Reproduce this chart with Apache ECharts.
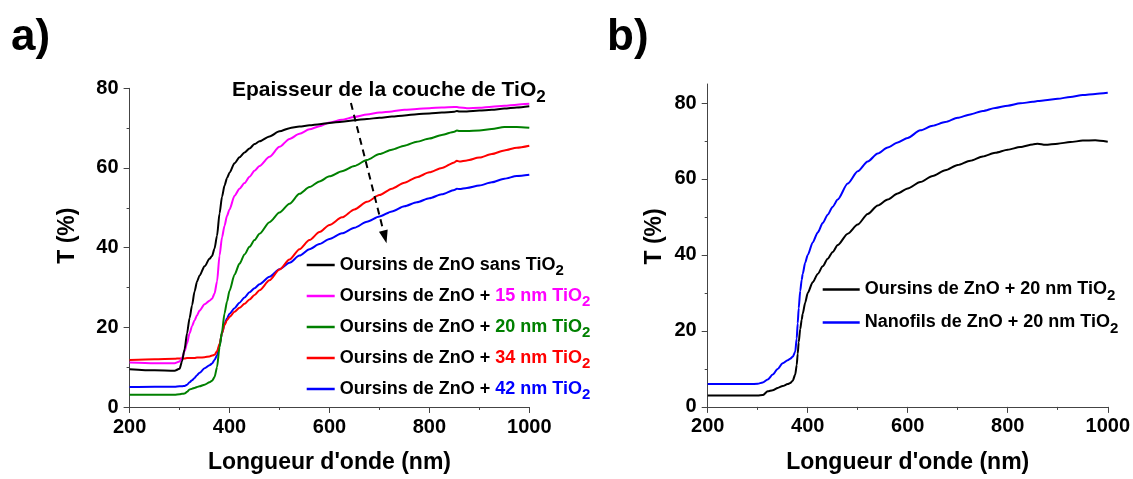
<!DOCTYPE html>
<html><head><meta charset="utf-8">
<script src="https://cdn.jsdelivr.net/npm/echarts@6/dist/echarts.min.js"></script>
<style>html,body{margin:0;padding:0;background:#fff}#c{width:1133px;height:479px}</style>
</head><body><div id="c"></div>
<script>
const FONT = "'Liberation Sans', Arial, sans-serif";

// ---------- panel a) data ----------
const wlA = [200,250,290,300,305,310,315,320,325,330,335,340,350,360,365,370,375,380,385,390,395,400,410,420,430,440,450,460,480,500,520,540,560,580,600,625,650,675,700,725,750,775,800,825,850,855,860,875,900,925,950,975,1000];
const tA_sans = [9.5,9.2,9.1,9.6,11.5,14.5,18.5,22.3,25.5,29,31.5,33,35.3,37.2,37.9,39.8,43,48.6,52.8,55.6,57.5,58.8,61.2,62.7,63.9,64.9,66,66.7,67.9,69.2,70,70.4,70.7,71.0,71.3,71.6,72,72.3,72.6,72.9,73.2,73.5,73.7,73.9,74.1,74.3,74.2,74.2,74.4,74.6,74.9,75.2,75.5];
const tA_15 = [11.2,11.0,11.0,11.4,12.3,14,16,18.5,20.3,21.8,23,24.2,25.8,26.7,27.2,28.5,31.5,38,42.6,45.5,48,49.6,53,54.8,56.2,57.8,59.3,60.5,62.8,65.3,67.3,68.6,69.7,70.5,71.4,72.1,72.8,73.4,73.9,74.2,74.6,74.8,75.0,75.2,75.3,75.3,75.2,75.0,75.1,75.4,75.6,75.9,76.1];
const tA_20 = [3.1,3.1,3.1,3.2,3.3,3.4,3.8,4.4,4.6,4.8,5.0,5.2,5.6,6.2,6.6,7.5,10,15,19,23.5,26.5,29.2,33.2,36,38.3,40.2,41.9,43.5,46.4,48.8,51,53.5,55.2,56.6,57.9,59.2,60.5,62,63.5,64.6,65.6,66.6,67.4,68.3,69.1,69.4,69.3,69.3,69.4,69.8,70.3,70.3,70.1];
const tA_34 = [11.8,12.0,12.1,12.2,12.2,12.2,12.3,12.3,12.3,12.3,12.4,12.4,12.5,12.7,12.9,13.1,14,15.8,18.5,20.6,21.8,22.6,23.9,24.9,25.9,27,28.1,29.3,31.8,34.5,37,39.6,41.9,43.9,45.7,47.6,49.6,51.5,53.2,54.8,56.3,57.7,58.9,60,61.4,61.8,61.6,61.9,62.6,63.5,64.4,65.1,65.6];
const tA_42 = [5.0,5.1,5.1,5.2,5.2,5.3,5.6,6.2,6.7,7.3,8.0,8.6,9.7,10.5,10.9,11.8,13,15.5,18.5,20.8,22.3,23.4,24.8,26.2,27.5,28.8,29.8,30.8,32.7,34.6,36.2,38,39.6,40.9,42.2,43.6,45,46.5,47.8,49.1,50.4,51.4,52.4,53.4,54.5,54.8,54.7,55,55.6,56.4,57.3,58,58.3];

// ---------- panel b) data ----------
const wlB = [200,250,285,300,310,320,330,340,350,360,365,370,375,378,380,382,385,388,390,395,400,410,420,430,440,450,460,480,500,520,540,560,580,600,625,650,675,700,725,750,775,800,825,850,860,875,900,925,950,975,1000];
const tB_oursins = [3.0,3.0,3.0,3.0,3.1,4.1,4.4,5.0,5.5,6.0,6.3,6.9,8.5,11,14,17,20.5,23,24.5,27.5,30,32.8,35,37,39,40.8,42.6,45.6,48,50.8,53,54.6,56.2,57.5,59.2,60.8,62.3,63.7,64.8,65.9,66.9,67.7,68.4,69.1,69.3,69.0,69.3,69.7,70.1,70.2,69.8];
const tB_nanofils = [6.0,6.0,6.0,6.1,6.4,7.2,8.5,10,11.5,12.3,12.7,13.2,14.5,18,22,26,30.5,33.5,35,38,40,43.3,45.9,48.4,50.6,52.7,54.6,58.8,62,64.6,66.7,68.3,69.6,70.8,72.8,74,75,76.1,77,77.9,78.7,79.3,79.9,80.3,80.5,80.7,81.1,81.6,82.1,82.4,82.7];

// ticks
const yTickValuesB = [0,20,40,60,80];
const yMinorValuesB = [10,30,50,70];

// legend texts
const legendKeysA = ['a0','a1','a2','a3','a4'];
const legendPrefixA = ['Oursins de ZnO sans ','Oursins de ZnO + ','Oursins de ZnO + ','Oursins de ZnO + ','Oursins de ZnO + '];
const legendThickA = ['','15 nm ','20 nm ','34 nm ','42 nm '];
const legendKeysB = ['b0','b1'];
const legendTextB = ['Oursins de ZnO + 20 nm TiO','Nanofils de ZnO + 20 nm TiO'];
const colorsA = ['#000000','#ff00ff','#008000','#ff0000','#0000ff'];
const colorsB = ['#000000','#0000ff'];
const annotationText = 'Epaisseur de la couche de TiO';

function pairs(xs, ys){ return xs.map((x,i)=>[x, ys[i]]); }

const richBase = (color, sub) => sub
  ? {fontSize:15, fontWeight:'bold', fontFamily:FONT, color:color, lineHeight:15, padding:[12,0,0,0]}
  : {fontSize:18, fontWeight:'bold', fontFamily:FONT, color:color, lineHeight:20};
const legendRich = {
  k: richBase('#000',false), ks: richBase('#000',true),
  c1: richBase(colorsA[1],false), c1s: richBase(colorsA[1],true),
  c2: richBase(colorsA[2],false), c2s: richBase(colorsA[2],true),
  c3: richBase(colorsA[3],false), c3s: richBase(colorsA[3],true),
  c4: richBase(colorsA[4],false), c4s: richBase(colorsA[4],true)
};
const legendLabel = {};
legendKeysA.forEach((k,i)=>{
  if (i === 0) legendLabel[k] = '{k|' + legendPrefixA[i] + 'TiO}{ks|2}';
  else legendLabel[k] = '{k|' + legendPrefixA[i] + '}{c'+i+'|' + legendThickA[i] + 'TiO}{c'+i+'s|2}';
});
legendKeysB.forEach((k,i)=>{ legendLabel[k] = '{k|' + legendTextB[i] + '}{ks|2}'; });

const axisColor = '#444';
const tickLabel = {color:'#000', fontSize:20, fontWeight:'bold', fontFamily:FONT, formatter: v => String(v)};
const nameStyle = {color:'#000', fontSize:23, fontWeight:'bold', fontFamily:FONT};

function xAxisDef(grid){
  return {
    gridIndex: grid, type:'value', min:200, max:1000, interval:200,
    axisLine:{show:true, onZero:false, lineStyle:{color:axisColor, width:1}},
    axisTick:{show:true, length:6, lineStyle:{color:axisColor}},
    minorTick:{show:true, splitNumber:2, length:3, lineStyle:{color:axisColor}},
    splitLine:{show:false},
    axisLabel:Object.assign({margin:10}, tickLabel),
    name:"Longueur d'onde (nm)", nameLocation:'middle', nameGap:44, nameTextStyle:nameStyle
  };
}

const seriesA = [tA_sans, tA_15, tA_20, tA_34, tA_42].map((ys,i)=>({
  name: legendKeysA[i], type:'line', xAxisIndex:0, yAxisIndex:0,
  data: pairs(wlA, ys), symbol:'none', showSymbol:false, smooth:0.25, smoothMonotone:'x',
  lineStyle:{width:2, color:colorsA[i]}, itemStyle:{color:colorsA[i]}, z: 5 - i
}));
seriesA[0].markLine = {
  silent:true, symbol:['none','triangle'], symbolSize:[9,13],
  label:{show:false},
  lineStyle:{type:[7,5], width:2, color:'#000'},
  data:[[{coord:[643,76.3]},{coord:[711,42.7]}]]
};
const seriesB = [tB_oursins, tB_nanofils].map((ys,i)=>({
  name: legendKeysB[i], type:'line', xAxisIndex:1, yAxisIndex:1,
  data: pairs(wlB, ys), symbol:'none', showSymbol:false, smooth:0.25, smoothMonotone:'x',
  lineStyle:{width:2, color:colorsB[i]}, itemStyle:{color:colorsB[i]}
}));

const chart = echarts.init(document.getElementById('c'), null, {renderer:'canvas'});
chart.setOption({
  animation:false,
  backgroundColor:'#fff',
  grid:[
    {left:129.6, top:88.3, width:399.7, height:322.7},
    {left:707.7, top:84, width:400.6, height:322.9}
  ],
  xAxis:[ xAxisDef(0), xAxisDef(1) ],
  yAxis:[
    {gridIndex:0, type:'value', min:0, max:80, interval:20,
     axisLine:{show:true, lineStyle:{color:axisColor, width:1}},
     axisTick:{show:true, length:6, lineStyle:{color:axisColor}},
     minorTick:{show:true, splitNumber:2, length:3, lineStyle:{color:axisColor}},
     splitLine:{show:false},
     axisLabel:Object.assign({margin:11}, tickLabel),
     name:'T (%)', nameLocation:'middle', nameGap:50,
     nameTextStyle:Object.assign({padding:[0,0,0,24]}, nameStyle)},
    {gridIndex:1, type:'value', min:0, max:85, interval:20, position:'left',
     axisLine:{show:true, lineStyle:{color:axisColor, width:1}},
     axisTick:{show:true, length:6, customValues:yTickValuesB, lineStyle:{color:axisColor}},
     splitLine:{show:false},
     axisLabel:Object.assign({margin:11, customValues:yTickValuesB}, tickLabel),
     name:'T (%)', nameLocation:'middle', nameGap:42,
     nameTextStyle:Object.assign({padding:[0,0,0,18]}, nameStyle)},
    {gridIndex:1, type:'value', min:0, max:85, interval:20, position:'left', offset:0,
     axisLine:{show:false}, splitLine:{show:false}, axisLabel:{show:false},
     axisTick:{show:true, length:3, customValues:yMinorValuesB, lineStyle:{color:axisColor}}}
  ],
  legend:[
    {data:legendKeysA, orient:'vertical', left:306.7, top:251.5, padding:0,
     icon:'rect', itemWidth:28, itemHeight:2.5, itemGap:4, selectedMode:false,
     formatter:n=>legendLabel[n], textStyle:{rich:legendRich}},
    {data:legendKeysB, orient:'vertical', left:822.7, top:276, padding:0,
     icon:'rect', itemWidth:37, itemHeight:2.5, itemGap:6, selectedMode:false,
     formatter:n=>legendLabel[n], textStyle:{rich:legendRich}}
  ],
  graphic:[
    {type:'text', left:11, top:16, style:{text:'a)', fontSize:44, fontWeight:'bold', fontFamily:FONT, fill:'#000'}},
    {type:'text', left:607, top:16, style:{text:'b)', fontSize:44, fontWeight:'bold', fontFamily:FONT, fill:'#000'}},
    {type:'text', left:232, top:74.5, style:{
      text:'{m|' + annotationText + '}{s|2}',
      rich:{
        m:{fontSize:21, fontWeight:'bold', fontFamily:FONT, fill:'#000', lineHeight:22},
        s:{fontSize:17, fontWeight:'bold', fontFamily:FONT, fill:'#000', lineHeight:17, padding:[14,0,0,0]}
      }}}
  ],
  series: seriesA.concat(seriesB)
});
</script>
</body></html>
